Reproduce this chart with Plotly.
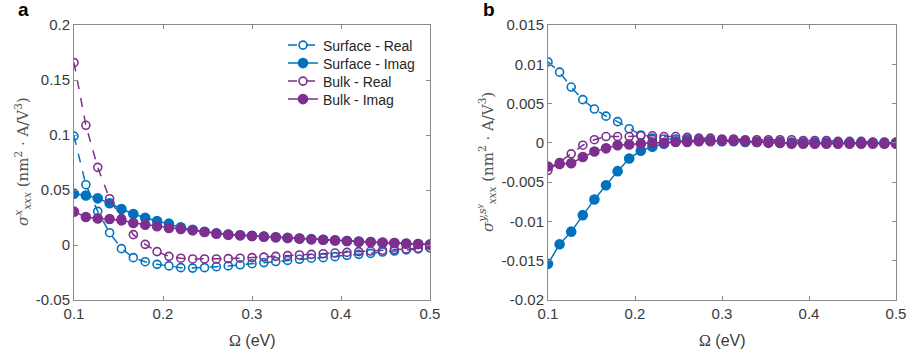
import plotly.graph_objects as go

omega = [0.1, 0.11333, 0.12667, 0.14, 0.15333, 0.16667, 0.18, 0.19333, 0.20667, 0.22,
         0.23333, 0.24667, 0.26, 0.27333, 0.28667, 0.3, 0.31333, 0.32667, 0.34, 0.35333,
         0.36667, 0.38, 0.39333, 0.40667, 0.42, 0.43333, 0.44667, 0.46, 0.47333, 0.48667, 0.5]

# Panel a
a_surf_real = [0.099, 0.0548, 0.0306, 0.0112, -0.0033, -0.0115, -0.0152, -0.0176, -0.019, -0.0206,
               -0.021, -0.0206, -0.0197, -0.019, -0.018, -0.017, -0.016, -0.015, -0.014, -0.013,
               -0.012, -0.0115, -0.0106, -0.0094, -0.0085, -0.0076, -0.0064, -0.0055, -0.0045, -0.0036, -0.0027]
a_surf_imag = [0.0467, 0.045, 0.0424, 0.038, 0.0327, 0.0282, 0.0248, 0.0218, 0.0194, 0.0162,
               0.0138, 0.0121, 0.0106, 0.0095, 0.0089, 0.0083, 0.0077, 0.0071, 0.0065, 0.0059,
               0.0053, 0.0048, 0.0043, 0.0037, 0.0031, 0.0027, 0.0022, 0.0018, 0.0013, 0.0009, 0.0004]
a_bulk_real = [0.1658, 0.1088, 0.0706, 0.0421, 0.024, 0.0094, 0.0006, -0.006, -0.0103, -0.012,
               -0.0127, -0.0127, -0.0127, -0.0124, -0.012, -0.0115, -0.011, -0.0103, -0.0097, -0.0091,
               -0.0085, -0.0079, -0.0073, -0.0067, -0.006, -0.0055, -0.0048, -0.0042, -0.0036, -0.003, -0.0024]
a_bulk_imag = [0.0303, 0.0255, 0.0242, 0.0236, 0.0224, 0.02, 0.0185, 0.017, 0.0155, 0.0145,
               0.0133, 0.0118, 0.0103, 0.0094, 0.0088, 0.0082, 0.0076, 0.007, 0.0064, 0.0058,
               0.0052, 0.0048, 0.0042, 0.0036, 0.003, 0.0027, 0.0021, 0.0018, 0.0012, 0.0009, 0.0003]

# Panel b
b_surf_real = [0.0103, 0.009, 0.0071, 0.0055, 0.0043, 0.0034, 0.0027, 0.0018, 0.001, 0.0006,
               0.0005, 0.0005, 0.0005, 0.0005, 0.0004, 0.0004, 0.0003, 0.0003, 0.0002, 0.0002,
               0.0002, 0.0001, 0.0001, 0.0001, 0.0001, 0.0, 0.0, 0.0, 0.0, 0.0, 0.0]
b_surf_imag = [-0.0154, -0.0129, -0.0113, -0.0092, -0.0072, -0.0054, -0.0036, -0.002, -0.001, -0.0005,
               -0.0001, 0.0002, 0.0003, 0.0003, 0.0003, 0.0002, 0.0002, 0.0001, 0.0001, 0.0001,
               0.0, 0.0, 0.0, 0.0, 0.0, 0.0, 0.0, 0.0, 0.0, 0.0, 0.0]
b_bulk_real = [-0.0035, -0.0025, -0.0014, -0.0003, 0.0004, 0.0008, 0.0008, 0.0008, 0.0009, 0.0009,
               0.0008, 0.0008, 0.0007, 0.0006, 0.0006, 0.0005, 0.0005, 0.0004, 0.0004, 0.0004,
               0.0004, 0.0004, 0.0003, 0.0003, 0.0003, 0.0002, 0.0002, 0.0002, 0.0001, 0.0001, 0.0001]
b_bulk_imag = [-0.003, -0.0027, -0.0026, -0.0018, -0.0011, -0.0007, -0.0003, -0.0002, -0.0001, 0.0,
               0.0, 0.0001, 0.0001, 0.0002, 0.0002, 0.0003, 0.0003, 0.0002, 0.0001, 0.0,
               0.0, -0.0001, -0.0001, -0.0001, -0.0001, -0.0001, -0.0001, -0.0001, -0.0001, -0.0001, -0.0001]

series_names = ["Surface - Real", "Surface - Imag", "Bulk - Real", "Bulk - Imag"]

x_ticks = [0.1, 0.2, 0.3, 0.4, 0.5]
x_ticktext = ["0.1", "0.2", "0.3", "0.4", "0.5"]
a_yticks = [-0.05, 0, 0.05, 0.1, 0.15, 0.2]
a_yticktext = ["-0.05", "0", "0.05", "0.1", "0.15", "0.2"]
b_yticks = [-0.02, -0.015, -0.01, -0.005, 0, 0.005, 0.01, 0.015]
b_yticktext = ["-0.02", "-0.015", "-0.01", "-0.005", "0", "0.005", "0.01", "0.015"]

BLUE = "#0072BD"
PURPLE = "#7E2F8E"

W, H = 909, 360
T, B = 25, 60


def py(px_from_top):
    """Figure pixel row -> paper y coordinate."""
    return (H - B - px_from_top) / (H - T - B)


fig = go.Figure()
legend_ids = ["legend", "legend2", "legend3", "legend4"]
legend_rows = [45.5, 63.5, 81.5, 99.5]


def add(xa, ya, y, idx, color, real, show):
    fig.add_trace(go.Scatter(
        x=omega, y=y, name=series_names[idx], xaxis=xa, yaxis=ya, showlegend=show,
        legend=legend_ids[idx],
        mode="lines+markers",
        line=dict(color=color, width=1.5, dash="dash" if real else "solid"),
        marker=dict(symbol="circle-open" if real else "circle", size=8 if real else 9,
                    color=color, line=dict(width=1.6, color=color)),
    ))


add("x", "y", a_surf_real, 0, BLUE, True, True)
add("x", "y", a_surf_imag, 1, BLUE, False, True)
add("x", "y", a_bulk_real, 2, PURPLE, True, True)
add("x", "y", a_bulk_imag, 3, PURPLE, False, True)

add("x2", "y2", b_surf_real, 0, BLUE, True, False)
add("x2", "y2", b_surf_imag, 1, BLUE, False, False)
add("x2", "y2", b_bulk_real, 2, PURPLE, True, False)
add("x2", "y2", b_bulk_imag, 3, PURPLE, False, False)

TICKFONT = dict(family="Liberation Sans, Arial, sans-serif", size=15, color="#3a3a3a")
axcommon = dict(showline=True, linecolor="#8a8a8a", linewidth=1, mirror="ticks",
                ticks="inside", ticklen=4, tickcolor="#8a8a8a", showgrid=False,
                zeroline=False, tickfont=TICKFONT, automargin=False)

legends = {}
for lid, row in zip(legend_ids, legend_rows):
    legends[lid] = dict(x=283 / W, xanchor="left", y=py(row), yanchor="middle",
                        bgcolor="rgba(255,255,255,0)", borderwidth=0,
                        font=dict(family="Liberation Sans, Arial, sans-serif", size=14, color="#262626"),
                        itemwidth=30)

fig.update_layout(
    width=W, height=H,
    margin=dict(l=0, r=0, t=T, b=B, autoexpand=False),
    paper_bgcolor="white", plot_bgcolor="white",
    xaxis=dict(domain=[74 / W, 430 / W], range=[0.1, 0.5], anchor="y",
               tickvals=x_ticks, ticktext=x_ticktext, **axcommon),
    yaxis=dict(domain=[0, 1], range=[-0.05, 0.2], anchor="x",
               tickvals=a_yticks, ticktext=a_yticktext, **axcommon),
    xaxis2=dict(domain=[548 / W, 896 / W], range=[0.1, 0.5], anchor="y2",
                tickvals=x_ticks, ticktext=x_ticktext, **axcommon),
    yaxis2=dict(domain=[0, 1], range=[-0.02, 0.015], anchor="x2",
                tickvals=b_yticks, ticktext=b_yticktext, **axcommon),
    showlegend=True,
    **legends,
)

SERIF = "DejaVu Serif, Liberation Serif, serif"
ytitle_a = ("<i>σ</i><sup><i>x</i></sup><sub><i>xxx</i></sub> (nm<sup>2</sup> · A/V<sup>3</sup>)")
ytitle_b = ("<i>σ</i><sup><i>y,s<sup>y</sup></i></sup><sub><i>xxx</i></sub> (nm<sup>2</sup> · A/V<sup>3</sup>)")
xtitle = '<span style="font-family:Liberation Serif, serif">Ω</span> (eV)'

annots = [
    dict(text="<b>a</b>", x=23 / W, y=py(9), font=dict(family="Liberation Sans, Arial", size=19, color="black")),
    dict(text="<b>b</b>", x=489 / W, y=py(9), font=dict(family="Liberation Sans, Arial", size=19, color="black")),
    dict(text=ytitle_a, x=22 / W, y=py(162), textangle=-90,
         font=dict(family=SERIF, size=15, color="#555555")),
    dict(text=ytitle_b, x=486 / W, y=py(162), textangle=-90,
         font=dict(family=SERIF, size=15, color="#555555")),
    dict(text=xtitle, x=252 / W, y=py(340), font=dict(family="Liberation Sans, Arial", size=16, color="#3a3a3a")),
    dict(text=xtitle, x=722 / W, y=py(340), font=dict(family="Liberation Sans, Arial", size=16, color="#3a3a3a")),
]
for a in annots:
    a.update(xref="paper", yref="paper", showarrow=False, xanchor="center", yanchor="middle")
fig.update_layout(annotations=annots)

fig.write_html("out.html", config={"displayModeBar": False},
               post_script="document.body.style.margin='0';document.body.style.overflow='hidden';")
